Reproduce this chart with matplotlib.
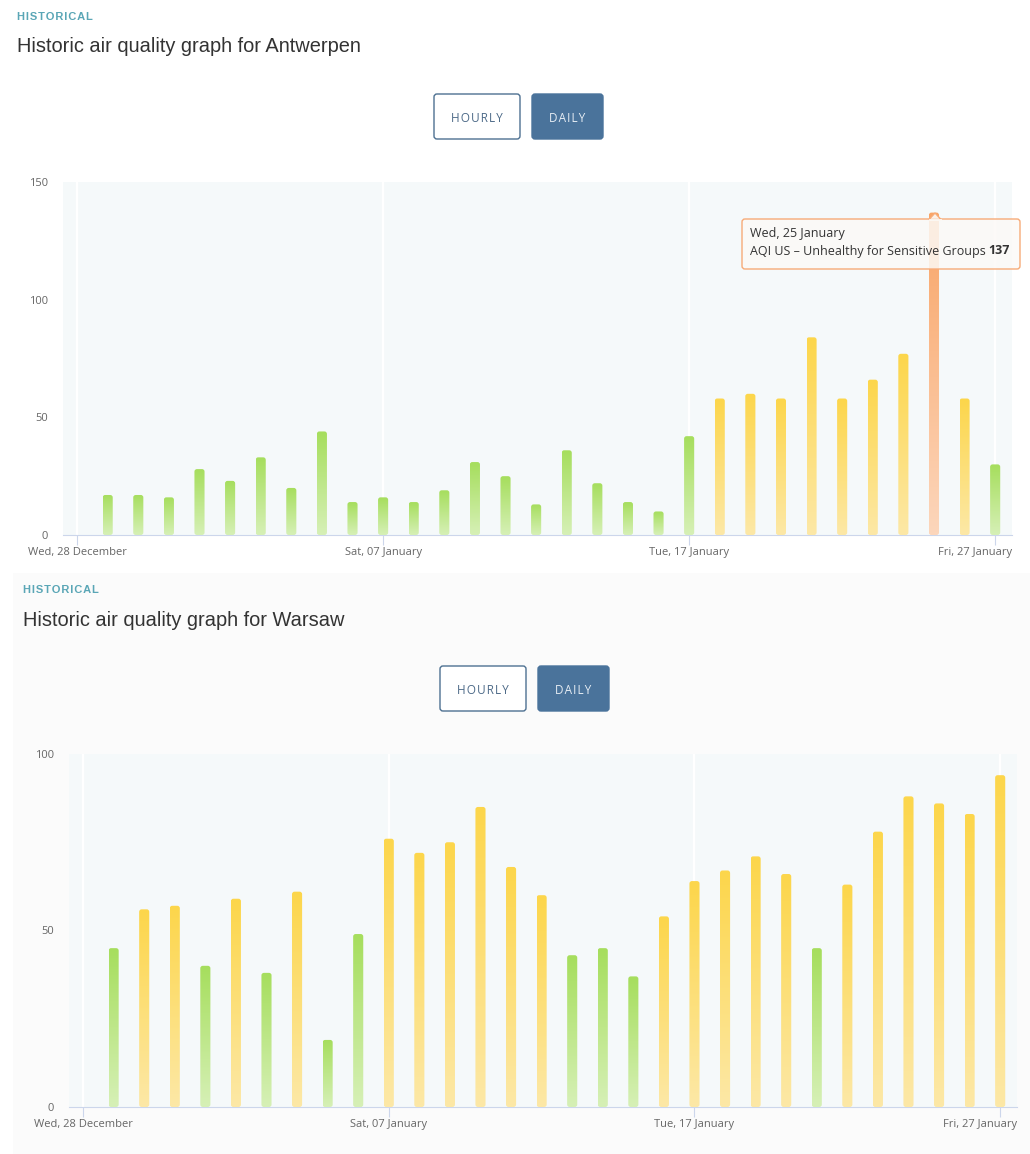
import matplotlib
matplotlib.use('Agg')
import matplotlib.pyplot as plt
import numpy as np
from matplotlib.patches import FancyBboxPatch, Rectangle, Polygon
from matplotlib.colors import to_rgba

# days counted from Wed, 28 December
tick_days = [0, 10, 20, 30]
tick_labels = ['Wed, 28 December', 'Sat, 07 January', 'Tue, 17 January', 'Fri, 27 January']
days = np.arange(1, 31)

antwerpen_aqi = [17, 17, 16, 28, 23, 33, 20, 44, 14, 16,
                 14, 19, 31, 25, 13, 36, 22, 14, 10, 42,
                 58, 60, 58, 84, 58, 66, 77, 137, 58, 30]
warsaw_aqi = [45, 56, 57, 40, 59, 38, 61, 19, 49, 76,
              72, 75, 85, 68, 60, 43, 45, 37, 54, 64,
              67, 71, 66, 45, 63, 78, 88, 86, 83, 94]

W, H = 1030, 1154
BAR_W = 0.33
TXT = '#666666'
HS = '\u200a'  # hair space, used for letter spacing


def spaced(s):
    return HS.join(s)


def level_colors(v):
    if v <= 50:
        return '#a6de5d', '#d6f0b6'
    if v <= 100:
        return '#fdd64b', '#fce8a6'
    return '#f9a567', '#fcd6bb'


def ax_rect(x0, y0, x1, y1):
    return [x0 / W, 1 - y1 / H, (x1 - x0) / W, (y1 - y0) / H]


def draw_chart(ax, values, ymax, yticks):
    ax.set_facecolor('#f5f9fa')
    px_h = ax.get_position().height * H
    y_per_px = ymax / px_h
    x_per_px = 1 / 30.6
    for d, v in zip(days, values):
        top, bot = level_colors(v)
        t = np.linspace(0, 1, 64)[:, None]
        c1 = np.array(to_rgba(top))
        c2 = np.array(to_rgba(bot))
        img = (c1 * (1 - t) + c2 * t)[:, None, :]
        im = ax.imshow(img, extent=[d - BAR_W / 2, d + BAR_W / 2, 0, v],
                       aspect='auto', origin='upper', interpolation='bilinear', zorder=3)
        r = 2.5 * x_per_px
        clip = FancyBboxPatch((d - BAR_W / 2, 0), BAR_W, v,
                              boxstyle='round,pad=0,rounding_size=%f' % r,
                              mutation_aspect=(2.5 * y_per_px) / r,
                              transform=ax.transData, facecolor='none', edgecolor='none')
        ax.add_patch(clip)
        im.set_clip_path(clip)
    ax.set_xlim(-0.46, 30.55)
    ax.set_ylim(0, ymax)
    ax.set_xticks(tick_days)
    # last label is pushed left so it ends at the plot edge
    ax.set_xticklabels(tick_labels[:-1] + [''])
    ax.annotate(tick_labels[-1], xy=(1, 0), xycoords='axes fraction', xytext=(0, -17),
                textcoords='offset pixels', ha='right', va='center', fontsize=8,
                color=TXT, family='Open Sans')
    ax.set_yticks(yticks)
    ax.grid(axis='x', color='white', lw=1.6, zorder=1)
    ax.set_axisbelow(True)
    for s in ['top', 'right', 'left']:
        ax.spines[s].set_visible(False)
    ax.spines['bottom'].set_color('#ccd6eb')
    ax.tick_params(axis='x', length=7, color='#ccd6eb', pad=1.5, labelsize=8, labelcolor=TXT)
    ax.tick_params(axis='y', length=0, pad=11, labelsize=8, labelcolor=TXT)
    for lab in ax.get_xticklabels() + ax.get_yticklabels():
        lab.set_family('Open Sans')


fig = plt.figure(figsize=(W / 100, H / 100), dpi=100)
fig.patch.set_facecolor('white')

bg = fig.add_axes([0, 0, 1, 1], zorder=-1)
bg.set_xlim(0, W)
bg.set_ylim(H, 0)
bg.axis('off')
bg.add_patch(Rectangle((13, 573), W - 13, H - 573, facecolor='#fbfbfb', edgecolor='none'))


def header(x, y, city):
    bg.text(x, y, spaced('HISTORICAL'), fontsize=8, fontweight='bold', color='#5aa6b6',
            family=['Liberation Sans', 'DejaVu Sans'], va='center', ha='left')
    bg.text(x, y + 30, 'Historic air quality graph for ' + city, fontsize=14.4,
            color='#333333', family='Liberation Sans', va='center', ha='left')


def buttons(x, y):
    bg.add_patch(FancyBboxPatch((x, y), 86, 45, boxstyle='round,pad=0,rounding_size=3',
                                facecolor='white', edgecolor='#4d7091', lw=1))
    bg.text(x + 43, y + 24, spaced('HOURLY'), fontsize=8.5, color='#4d6a88',
            family=['Open Sans', 'DejaVu Sans'], ha='center', va='center')
    bg.add_patch(FancyBboxPatch((x + 98, y), 71, 45, boxstyle='round,pad=0,rounding_size=3',
                                facecolor='#4a739b', edgecolor='#4a739b', lw=1))
    bg.text(x + 98 + 35.5, y + 24, spaced('DAILY'), fontsize=8.5, color='#e6edf4',
            family=['Open Sans', 'DejaVu Sans'], ha='center', va='center')


header(17, 17, 'Antwerpen')
buttons(434, 94)
header(23, 590, 'Warsaw')
buttons(440, 666)

ax1 = fig.add_axes(ax_rect(63, 182, 1012, 535))
draw_chart(ax1, antwerpen_aqi, 150, [0, 50, 100, 150])
ax2 = fig.add_axes(ax_rect(69, 754, 1017, 1107))
draw_chart(ax2, warsaw_aqi, 100, [0, 50, 100])

# tooltip for the hovered bar (Wed, 25 January)
ov = fig.add_axes([0, 0, 1, 1], zorder=10)
ov.set_xlim(0, W)
ov.set_ylim(H, 0)
ov.axis('off')
ov.patch.set_alpha(0)
ov.add_patch(FancyBboxPatch((742, 219), 278, 50, boxstyle='round,pad=0,rounding_size=3',
                            facecolor=(0.99, 0.98, 0.97, 0.85), edgecolor='#f7ab78', lw=1))
ov.add_patch(Polygon([[929, 219.5], [935, 213], [941, 219.5]], closed=True,
                     facecolor=(0.99, 0.98, 0.97, 0.9), edgecolor='#f7ab78', lw=1))
ov.plot([929.5, 940.5], [219.5, 219.5], color=(0.99, 0.98, 0.97, 1), lw=1.3)
ov.text(750, 234, 'Wed, 25 January', fontsize=9, color='#333333', family='Open Sans',
        ha='left', va='center')
t1 = ov.text(750, 251, 'AQI US \u2013 Unhealthy for Sensitive Groups', fontsize=9,
             color='#333333', family='Open Sans', ha='left', va='center')
ov.annotate(str(antwerpen_aqi[27]), xy=(1, 0.5), xycoords=t1, xytext=(3, 0),
            textcoords='offset pixels', fontsize=9, fontweight='bold',
            color='#333333', family='Open Sans', ha='left', va='center')

fig.savefig('out.png', dpi=100)
